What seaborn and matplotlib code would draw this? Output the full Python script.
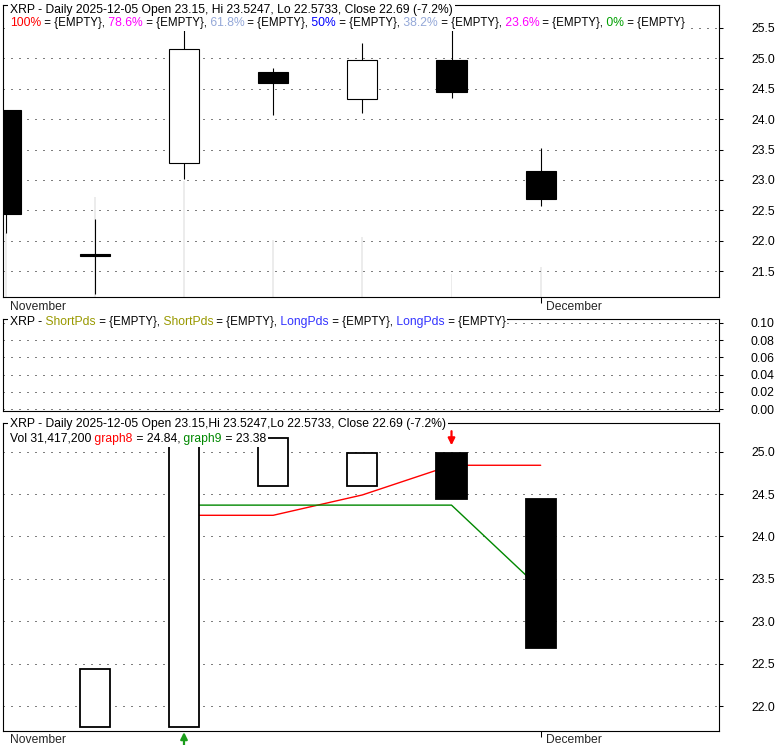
import numpy as np
import pandas as pd
import matplotlib
matplotlib.use("Agg")
import matplotlib.pyplot as plt
from matplotlib.ticker import FormatStrFormatter
import seaborn as sns

# Daily candles
days = [0, 1, 2, 3, 4, 5, 6]
opens = [24.15, 21.775, 23.27, 24.78, 24.33, 24.98, 23.15]
highs = [24.15, 22.36, 25.60, 24.84, 25.25, 25.60, 23.5247]
lows = [22.13, 21.13, 23.01, 24.07, 24.10, 24.35, 22.5733]
closes = [22.44, 21.755, 25.16, 24.60, 24.98, 24.44, 22.69]
volumes = [67e6, 105e6, 122e6, 60e6, 63e6, 24e6, 31.4172e6]

# Lower panel: close-to-close boxes (filled or hollow) and two indicator lines
box_filled = [False, False, False, False, True, True]
graph8 = [np.nan, np.nan, 24.25, 24.25, 24.49, 24.84, 24.84]
graph9 = [np.nan, np.nan, 24.37, 24.37, 24.37, 24.37, 23.38]
buy_days = [2]
sell_days = [5]

dec_day = 6
main_ticks = [21.5, 22.0, 22.5, 23.0, 23.5, 24.0, 24.5, 25.0, 25.5]
ind_ticks = [0.00, 0.02, 0.04, 0.06, 0.08, 0.10]
low_ticks = [22.0, 22.5, 23.0, 23.5, 24.0, 24.5, 25.0]

fib_levels = ["100%", "78.6%", "61.8%", "50%", "38.2%", "23.6%", "0%"]
fib_colors = ["#ff0000", "#ff00ff", "#94a8d8", "#0000ff", "#94a8d8", "#ff00ff", "#00a000"]

title = "XRP - Daily 2025-12-05 Open 23.15, Hi 23.5247, Lo 22.5733, Close 22.69 (-7.2%)"
title3 = "XRP - Daily 2025-12-05 Open 23.15,Hi 23.5247,Lo 22.5733, Close 22.69 (-7.2%)"

sns.set_style("white")
plt.rcParams["font.family"] = ["Liberation Sans", "DejaVu Sans"]
FS = 8.7
FS_EMPTY = 8.3

W, H = 780, 745
fig = plt.figure(figsize=(7.8, 7.45), dpi=100)


def place(top, bottom):
    return [3 / W, 1 - bottom / H, 716 / W, (bottom - top) / H]


ax1 = fig.add_axes(place(5, 297))
ax2 = fig.add_axes(place(319.3, 411))
ax3 = fig.add_axes(place(423.3, 731))

# volume as faint bars behind the price candles
axv = ax1.twinx()
axv.set_ylim(0, 306e6)
axv.axis("off")
axv.bar(days, volumes, width=0.022, color="#ececec", linewidth=0)
ax1.set_zorder(axv.get_zorder() + 1)
ax1.patch.set_visible(False)


def style(ax, ticks, fmt, ylim):
    ax.set_xlim(-0.03, 8.0)
    ax.set_ylim(*ylim)
    ax.set_yticks(ticks)
    ax.yaxis.set_major_formatter(FormatStrFormatter(fmt))
    ax.yaxis.tick_right()
    ax.tick_params(axis="y", left=False, right=True, labelleft=False, labelright=True,
                   direction="out", length=3, width=0.75, pad=20,
                   labelsize=FS, colors="black")
    ax.set_axisbelow(True)
    ax.yaxis.grid(True, color="black", linestyle=(0, (1, 7)), linewidth=0.72)
    ax.xaxis.grid(False)
    for sp in ax.spines.values():
        sp.set_visible(True)
        sp.set_color("black")
        sp.set_linewidth(0.8)


style(ax1, main_ticks, "%.1f", (21.074, 25.877))
style(ax2, ind_ticks, "%.2f", (-0.0023, 0.1043))
style(ax3, low_ticks, "%.1f", (21.706, 25.335))

for ax in (ax1, ax3):
    ax.set_xticks([dec_day])
    ax.tick_params(axis="x", bottom=True, direction="out", length=4.5, width=0.75,
                   labelbottom=False, colors="black")
ax2.set_xticks([])


def month_labels(ax, y_px):
    yf = 1 - y_px / H
    ax.annotate("November", xy=(0, yf), xycoords=("axes fraction", "figure fraction"),
                xytext=(5, 0), textcoords="offset points", va="baseline", ha="left",
                fontsize=FS, annotation_clip=False)
    ax.annotate("December", xy=(dec_day, yf), xycoords=("data", "figure fraction"),
                xytext=(3.6, 0), textcoords="offset points", va="baseline", ha="left",
                fontsize=FS, annotation_clip=False)


month_labels(ax1, 310)
month_labels(ax3, 743)

# candles
df = pd.DataFrame({"day": days, "open": opens, "high": highs, "low": lows, "close": closes})
body_low = df[["open", "close"]].min(axis=1)
body_h = (df["close"] - df["open"]).abs()
body_col = ["white" if c > o else "black" for o, c in zip(df["open"], df["close"])]
ax1.vlines(df["day"], df["low"], df["high"], color="black", linewidth=0.8, zorder=3)
ax1.bar(df["day"], body_h, bottom=body_low, width=0.34, color=body_col,
        edgecolor="black", linewidth=0.8, zorder=4)

# lower panel boxes and indicator lines
prev_c = np.array(closes[:-1])
cur_c = np.array(closes[1:])
box_col = ["black" if f else "white" for f in box_filled]
ax3.bar(days[1:], np.abs(cur_c - prev_c), bottom=np.minimum(prev_c, cur_c), width=0.34,
        color=box_col, edgecolor="black", linewidth=1.3, zorder=4)

lines = pd.DataFrame({"day": days, "graph8": graph8, "graph9": graph9})
g8 = lines.dropna(subset=["graph8"])
g9 = lines.dropna(subset=["graph9"])
sns.lineplot(data=g8, x="day", y="graph8", ax=ax3, color="#ff0000", linewidth=1.0, zorder=2)
sns.lineplot(data=g9, x="day", y="graph9", ax=ax3, color="#008800", linewidth=1.0, zorder=2)
ax3.set_xlabel("")
ax3.set_ylabel("")
ax3.set_xlim(-0.03, 8.0)

for d in sell_days:
    top = max(closes[d], closes[d - 1])
    ax3.annotate("", xy=(d, top), xytext=(0, 16), textcoords="offset points",
                 arrowprops=dict(arrowstyle="-|>", color="#ff0000", lw=1.6,
                                 mutation_scale=10, shrinkA=0, shrinkB=5.8),
                 annotation_clip=False, zorder=6)
for d in buy_days:
    ax3.annotate("", xy=(d, 0), xycoords=("data", "axes fraction"), xytext=(0, -10.5),
                 textcoords="offset points",
                 arrowprops=dict(arrowstyle="-|>", color="#1a9c1a", lw=1.6,
                                 mutation_scale=10, shrinkA=0, shrinkB=0.8),
                 annotation_clip=False, zorder=6)


def colored_line(ax, y_px, parts):
    prev = None
    z = 30
    for text, color in parts:
        size = FS_EMPTY if "{EMPTY}" in text else FS
        kw = dict(va="baseline", ha="left", color=color, fontsize=size,
                  bbox=dict(boxstyle="square,pad=0.15", fc="white", ec="none"),
                  annotation_clip=False, zorder=z)
        if prev is None:
            prev = ax.annotate(text, xy=(10 / W, 1 - y_px / H), xycoords="figure fraction", **kw)
        else:
            prev = ax.annotate(text, xy=(1, 1 - y_px / H), xycoords=(prev, "figure fraction"), **kw)
        z -= 0.1


colored_line(ax1, 12.5, [(title, "black")])
fib_parts = []
for i, (lvl, col) in enumerate(zip(fib_levels, fib_colors)):
    fib_parts.append(((" " if i else "") + lvl, col))
    fib_parts.append((" = {EMPTY}" + ("," if i < len(fib_levels) - 1 else ""), "black"))
colored_line(ax1, 26, fib_parts)

colored_line(ax2, 325.3, [
    ("XRP -", "black"), (" ShortPds", "#999900"), (" = {EMPTY},", "black"),
    (" ShortPds", "#999900"), (" = {EMPTY},", "black"),
    (" LongPds", "#3333ff"), (" = {EMPTY},", "black"),
    (" LongPds", "#3333ff"), (" = {EMPTY}", "black"),
])

colored_line(ax3, 427.3, [(title3, "black")])
colored_line(ax3, 441.7, [
    ("Vol 31,417,200", "black"), (" graph8", "#ff0000"), (" = 24.84,", "black"),
    (" graph9", "#008800"), (" = 23.38", "black"),
])

fig.savefig("out.png", dpi=100, facecolor="white")
